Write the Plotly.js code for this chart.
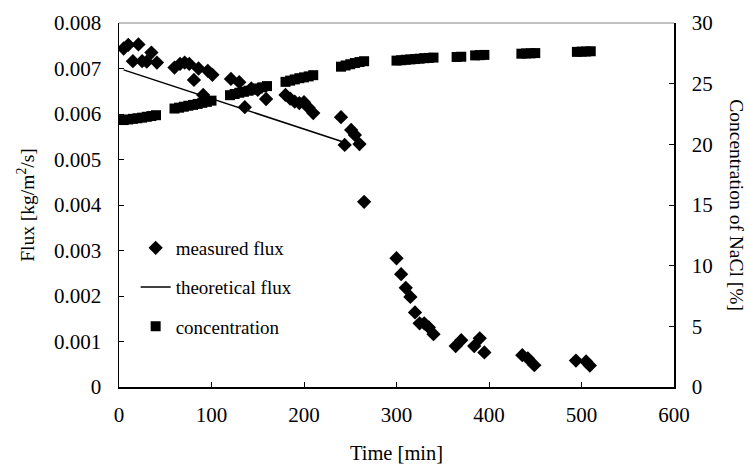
<!DOCTYPE html>
<html>
<head>
<meta charset="utf-8">
<script src="https://cdn.plot.ly/plotly-3.0.1.min.js"></script>
<style>html,body{margin:0;padding:0;background:#fff;}#chart{width:749px;height:464px;}</style>
</head>
<body>
<div id="chart"></div>
<script>
// measured flux [kg/m2/s] vs time [min]
const fluxTime = [5, 10, 15, 21, 25, 30, 35, 41,
  60, 66, 71, 76, 81, 86, 91, 96, 101,
  121, 130, 136, 143, 150, 159,
  180, 185, 190, 195, 200, 205, 210,
  240, 244, 251, 255, 260, 265,
  300, 305, 310, 315, 320, 325, 330, 335, 340,
  364, 370, 384, 390, 395,
  436, 442, 449,
  494, 505, 509];
const fluxValue = [0.00744, 0.00752, 0.00716, 0.00753, 0.00716, 0.00715, 0.00735, 0.00713,
  0.00702, 0.00710, 0.00713, 0.00710, 0.00675, 0.00700, 0.00642, 0.00695, 0.00686,
  0.00677, 0.00670, 0.00615, 0.00656, 0.00653, 0.00633,
  0.00642, 0.00634, 0.00627, 0.00624, 0.00626, 0.00614, 0.00602,
  0.00593, 0.00532, 0.00565, 0.00554, 0.00534, 0.00407,
  0.00283, 0.00248, 0.00218, 0.00198, 0.00164, 0.00140, 0.00140, 0.00131, 0.00116,
  0.00090, 0.00103, 0.00090, 0.00107, 0.00076,
  0.00070, 0.00063, 0.00048,
  0.00058, 0.00056, 0.00047];

// theoretical flux
const theoTime = [5, 245];
const theoValue = [0.00697, 0.00537];

// NaCl concentration [%]
const concTime = [5, 10, 15, 20, 25, 30, 35, 40,
  60, 65, 70, 75, 80, 85, 90, 95, 100,
  120, 125, 130, 135, 140, 145, 150, 155, 160,
  180, 185, 190, 195, 200, 205, 210,
  240, 245, 250, 255, 260, 265,
  300, 305, 310, 315, 320, 325, 330, 335, 340,
  365, 370,
  385, 390, 395,
  435, 440, 445, 450,
  495, 500, 505, 510];
const concValue = [22.0, 22.05, 22.1, 22.15, 22.2, 22.27, 22.33, 22.4,
  22.95, 23.02, 23.1, 23.18, 23.25, 23.33, 23.42, 23.5, 23.6,
  24.05, 24.15, 24.25, 24.33, 24.42, 24.5, 24.6, 24.7, 24.8,
  25.15, 25.25, 25.35, 25.45, 25.52, 25.6, 25.7,
  26.4, 26.5, 26.6, 26.7, 26.78, 26.85,
  26.9, 26.93, 26.97, 27.0, 27.03, 27.06, 27.1, 27.12, 27.15,
  27.2, 27.22,
  27.33, 27.35, 27.37,
  27.47, 27.49, 27.5, 27.52,
  27.62, 27.64, 27.65, 27.67];

const xTicks = [0, 100, 200, 300, 400, 500, 600];
const fluxTicks = [0, 0.001, 0.002, 0.003, 0.004, 0.005, 0.006, 0.007, 0.008];
const fluxTickText = ['0', '0.001', '0.002', '0.003', '0.004', '0.005', '0.006', '0.007', '0.008'];
const concTicks = [0, 5, 10, 15, 20, 25, 30];

const FONT = 'Liberation Serif, Times New Roman, serif';

const traces = [
  {x: fluxTime, y: fluxValue, name: 'measured flux', type: 'scatter', mode: 'markers',
   marker: {symbol: 'diamond', size: 11, color: '#000'}, legendgroup: 'a', yaxis: 'y'},
  {x: theoTime, y: theoValue, name: 'theoretical flux', type: 'scatter', mode: 'lines',
   line: {color: '#000', width: 1.5}, legendgroup: 'b', yaxis: 'y'},
  {x: concTime, y: concValue, name: 'concentration', type: 'scatter', mode: 'markers',
   marker: {symbol: 'square', size: 10, color: '#000'}, legendgroup: 'c', yaxis: 'y2'}
];

const layout = {
  width: 749, height: 464,
  margin: {l: 119, r: 75, t: 23, b: 77},
  paper_bgcolor: '#fff', plot_bgcolor: '#fff',
  font: {family: FONT, size: 21, color: '#000'},
  showlegend: true,
  legend: {x: 0.03, y: 0.434, xanchor: 'left', yanchor: 'top', bgcolor: 'rgba(0,0,0,0)',
           font: {family: FONT, size: 19}, traceorder: 'grouped', tracegroupgap: 11.5},
  xaxis: {range: [0, 600], tickvals: xTicks, ticks: 'inside', ticklen: 5, tickcolor: '#000',
          showline: true, linecolor: '#000', linewidth: 1.5, showgrid: false, zeroline: false,
          ticklabelstandoff: 8, tickfont: {family: FONT, size: 21},
          title: {text: 'Time [min]', font: {family: FONT, size: 20.5}, standoff: 22}},
  yaxis: {range: [0, 0.008], tickvals: fluxTicks, ticktext: fluxTickText, ticks: 'inside', ticklen: 5,
          tickcolor: '#000', showline: true, linecolor: '#000', linewidth: 1.5, showgrid: false,
          zeroline: false, ticklabelstandoff: 12, tickfont: {family: FONT, size: 21},
          title: {text: 'Flux [kg/m<sup>2</sup>/s]', font: {family: FONT, size: 19.5}, standoff: 14}},
  yaxis2: {range: [0, 30], tickvals: concTicks, ticks: 'inside', ticklen: 5, tickcolor: '#000',
           overlaying: 'y', side: 'right', showline: true, linecolor: '#000', linewidth: 1.5,
           showgrid: false, zeroline: false, ticklabelstandoff: 12, tickfont: {family: FONT, size: 21}},
  shapes: [{type: 'line', xref: 'paper', yref: 'paper', x0: 0, x1: 1, y0: 1, y1: 1,
            line: {color: '#808080', width: 1}}],
  annotations: [{text: 'Concentration of NaCl [%]', xref: 'paper', yref: 'paper', x: 1.113, y: 0.5,
                 xanchor: 'center', yanchor: 'middle', textangle: 90, showarrow: false,
                 font: {family: FONT, size: 19.5, color: '#000'}}]
};

Plotly.newPlot('chart', traces, layout, {displayModeBar: false, staticPlot: true});
</script>
</body>
</html>
